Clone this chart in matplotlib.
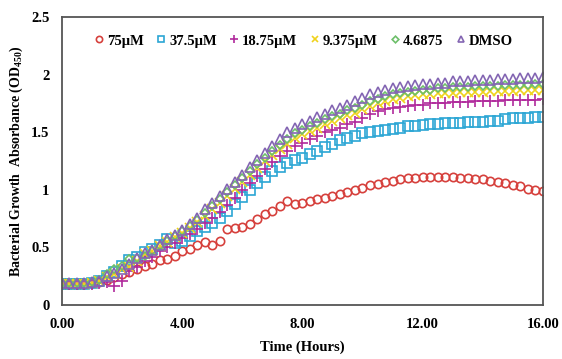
import numpy as np
import matplotlib
matplotlib.use("Agg")
import matplotlib.pyplot as plt

plt.rcParams['font.family'] = ['Liberation Serif', 'DejaVu Serif']
plt.rcParams['font.weight'] = 'bold'
plt.rcParams['mathtext.fontset'] = 'custom'
plt.rcParams['mathtext.rm'] = 'Liberation Serif:bold'
plt.rcParams['mathtext.bf'] = 'Liberation Serif:bold'

# time points, every 15 min from 0 to 16 h
hours = np.arange(65) * 0.25

od_75 = [0.18, 0.18, 0.18, 0.18, 0.19, 0.20, 0.22, 0.24, 0.27, 0.29, 0.31, 0.34, 0.36,
         0.39, 0.40, 0.43, 0.47, 0.49, 0.52, 0.55, 0.52, 0.56, 0.66, 0.67, 0.68, 0.70,
         0.75, 0.79, 0.82, 0.86, 0.90, 0.88, 0.89, 0.90, 0.92, 0.93, 0.95, 0.96, 0.98,
         1.00, 1.02, 1.04, 1.05, 1.07, 1.08, 1.09, 1.10, 1.10, 1.11, 1.11, 1.11, 1.11,
         1.11, 1.10, 1.10, 1.09, 1.09, 1.08, 1.07, 1.06, 1.04, 1.03, 1.01, 1.00, 0.99]
od_37 = [0.18, 0.18, 0.18, 0.18, 0.19, 0.21, 0.25, 0.29, 0.34, 0.39, 0.42, 0.46, 0.49,
         0.52, 0.57, 0.54, 0.56, 0.60, 0.64, 0.68, 0.71, 0.76, 0.82, 0.88, 0.94, 1.00,
         1.06, 1.11, 1.16, 1.20, 1.23, 1.26, 1.28, 1.31, 1.34, 1.37, 1.40, 1.43, 1.45,
         1.47, 1.49, 1.50, 1.51, 1.52, 1.53, 1.54, 1.55, 1.55, 1.56, 1.57, 1.57, 1.58,
         1.58, 1.58, 1.59, 1.59, 1.59, 1.60, 1.60, 1.61, 1.62, 1.62, 1.62, 1.63, 1.63]
od_18 = [0.18, 0.18, 0.18, 0.18, 0.18, 0.19, 0.20, 0.17, 0.21, 0.30, 0.33, 0.38, 0.42,
         0.47, 0.50, 0.54, 0.58, 0.62, 0.66, 0.71, 0.76, 0.81, 0.87, 0.93, 1.00, 1.06,
         1.12, 1.18, 1.24, 1.29, 1.34, 1.38, 1.41, 1.44, 1.47, 1.50, 1.52, 1.54, 1.57,
         1.59, 1.62, 1.66, 1.68, 1.70, 1.71, 1.72, 1.73, 1.74, 1.74, 1.75, 1.75, 1.75,
         1.76, 1.76, 1.76, 1.77, 1.77, 1.77, 1.77, 1.78, 1.78, 1.78, 1.78, 1.78, 1.79]
od_9 = [0.18, 0.18, 0.18, 0.18, 0.19, 0.21, 0.24, 0.27, 0.31, 0.33, 0.38, 0.44, 0.47,
        0.51, 0.55, 0.59, 0.63, 0.67, 0.72, 0.77, 0.83, 0.89, 0.95, 1.01, 1.07, 1.13,
        1.19, 1.25, 1.30, 1.35, 1.40, 1.45, 1.48, 1.51, 1.54, 1.57, 1.60, 1.62, 1.65,
        1.67, 1.70, 1.73, 1.75, 1.77, 1.79, 1.80, 1.81, 1.82, 1.83, 1.83, 1.84, 1.84,
        1.84, 1.85, 1.85, 1.85, 1.85, 1.86, 1.86, 1.86, 1.86, 1.87, 1.87, 1.87, 1.87]
od_4 = [0.19, 0.19, 0.19, 0.19, 0.20, 0.22, 0.27, 0.31, 0.34, 0.40, 0.41, 0.43, 0.47,
        0.51, 0.56, 0.60, 0.64, 0.69, 0.74, 0.80, 0.86, 0.92, 0.98, 1.04, 1.10, 1.16,
        1.22, 1.28, 1.34, 1.39, 1.44, 1.49, 1.52, 1.55, 1.58, 1.61, 1.64, 1.66, 1.69,
        1.71, 1.74, 1.77, 1.79, 1.81, 1.83, 1.84, 1.85, 1.86, 1.87, 1.87, 1.88, 1.88,
        1.89, 1.89, 1.89, 1.90, 1.90, 1.90, 1.90, 1.91, 1.91, 1.91, 1.91, 1.92, 1.92]
od_dmso = [0.19, 0.19, 0.19, 0.19, 0.20, 0.21, 0.25, 0.28, 0.31, 0.36, 0.41, 0.45, 0.48,
           0.52, 0.57, 0.61, 0.65, 0.70, 0.76, 0.83, 0.89, 0.95, 1.01, 1.07, 1.13, 1.20,
           1.26, 1.32, 1.38, 1.44, 1.50, 1.54, 1.57, 1.60, 1.63, 1.66, 1.69, 1.71, 1.74,
           1.77, 1.80, 1.83, 1.85, 1.87, 1.88, 1.89, 1.90, 1.91, 1.92, 1.92, 1.93, 1.93,
           1.94, 1.94, 1.94, 1.95, 1.95, 1.95, 1.96, 1.96, 1.96, 1.97, 1.97, 1.97, 1.98]

labels = ["75\u03bcM", "37.5\u03bcM", "18.75\u03bcM", "9.375\u03bcM", "4.6875", "DMSO"]
series = [od_75, od_37, od_18, od_9, od_4, od_dmso]
markers = ["o", "s", "+", "x", "D", "^"]
colors = ["#d6403c", "#2ba6d4", "#b02a9c", "#f0d21c", "#6dbf6a", "#8466b3"]
sizes = [6, 6.5, 8, 6.5, 4.5, 6.5]

fig = plt.figure(figsize=(5.62, 3.59), dpi=100)
ax = fig.add_axes([0.110, 0.150, 0.856, 0.803])

for y, lab, m, c, s in zip(series, labels, markers, colors, sizes):
    ax.plot(hours, y, linestyle="none", marker=m, markersize=s,
            markerfacecolor="none", markeredgecolor=c, markeredgewidth=1.2,
            label=lab)

ax.set_xlim(0, 16)
ax.set_ylim(0, 2.5)
ax.set_xticks([0, 4, 8, 12, 16])
ax.set_xticklabels(["0.00", "4.00", "8.00", "12.00", "16.00"])
ax.set_yticks([0, 0.5, 1, 1.5, 2, 2.5])
ax.set_yticklabels(["0", "0.5", "1", "1.5", "2", "2.5"])
ax.tick_params(length=0, labelsize=10.5, pad=9)
for lbl in ax.get_xticklabels() + ax.get_yticklabels():
    lbl.set_fontweight("bold")
for sp in ax.spines.values():
    sp.set_color("#555555")
    sp.set_linewidth(1.3)

ax.set_xlabel("Time (Hours)", fontsize=10.5, fontweight="bold", labelpad=7)
ax.set_ylabel("Bacterial Growth  Absorbance (OD$_{450}$)", fontsize=10,
              fontweight="bold", labelpad=4)

leg = ax.legend(loc="upper center", bbox_to_anchor=(0.5, 0.985), ncol=6,
                frameon=False, fontsize=10.5, handletextpad=0.05,
                columnspacing=0.7, handlelength=1.0, markerscale=0.75)
for t in leg.get_texts():
    t.set_fontweight("bold")

fig.savefig("out.png", dpi=100)
